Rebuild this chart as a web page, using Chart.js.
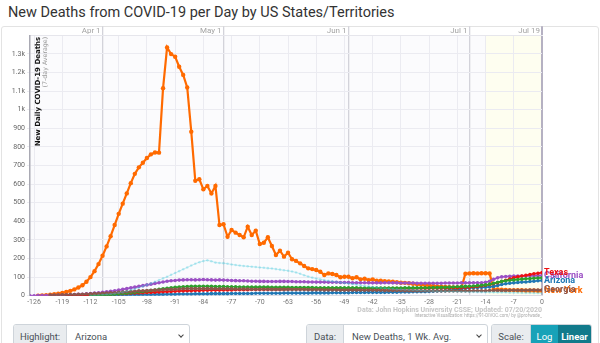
<!DOCTYPE html>
<html>
<head>
<meta charset="utf-8">
<script src="https://cdn.jsdelivr.net/npm/chart.js@4.4.1/dist/chart.umd.min.js"></script>
<style>
  html, body { margin: 0; padding: 0; background: #fff; }
  body { width: 600px; height: 343px; overflow: hidden; position: relative; font-family: Roboto, "Liberation Sans", sans-serif; }
  h1 { position: absolute; left: 8px; top: 4px; margin: 0; font-size: 14.5px; font-weight: 400; color: #333; line-height: 18px; white-space: nowrap; }
  .frame { position: absolute; left: 1px; top: 26px; width: 596px; height: 330px; border: 1px solid #e3e3e3; border-radius: 3px; }
  .plot { position: absolute; left: 0; top: 26px; width: 600px; height: 292px; }
  .grp { position: absolute; top: 324px; height: 25px; display: flex; border: 1px solid #ced4da; border-radius: 3px; box-sizing: border-box; overflow: hidden; font-size: 9.5px; color: #495057; background: #fff; }
  .lab { background: #e9ecef; border-right: 1px solid #ced4da; line-height: 23px; text-align: center; }
  .sel { flex: 1; line-height: 23px; padding-left: 8px; position: relative; }
  .chev { position: absolute; right: 6px; top: 8px; width: 3px; height: 3px; border-right: 1.2px solid #444; border-bottom: 1.2px solid #444; transform: rotate(45deg); }
  .btn { line-height: 23px; text-align: center; color: #fff; }
</style>
</head>
<body>
<h1>New Deaths from COVID-19 per Day by US States/Territories</h1>
<div class="frame"></div>
<div class="plot"><canvas id="deathsChart" width="600" height="292"></canvas></div>

<div class="grp" style="left:13px;width:177px">
  <div class="lab" style="width:52px">Highlight:</div>
  <div class="sel">Arizona<i class="chev"></i></div>
</div>
<div class="grp" style="left:306px;width:182px">
  <div class="lab" style="width:36px">Data:</div>
  <div class="sel">New Deaths, 1 Wk. Avg.<i class="chev"></i></div>
</div>
<div class="grp" style="left:491px;width:101px">
  <div class="lab" style="width:38px">Scale:</div>
  <div class="btn" style="width:27px;background:#17a2b8">Log</div>
  <div class="btn" style="flex:1;background:#117a8b;font-weight:700">Linear</div>
</div>

<script>
// days relative to the latest report (0 = Jul 19)
const days = [
  -127,-126,-125,-124,-123,-122,-121,-120,-119,-118,
  -117,-116,-115,-114,-113,-112,-111,-110,-109,-108,
  -107,-106,-105,-104,-103,-102,-101,-100,-99,-98,
  -97,-96,-95,-94,-93,-92,-91,-90,-89,-88,
  -87,-86,-85,-84,-83,-82,-81,-80,-79,-78,
  -77,-76,-75,-74,-73,-72,-71,-70,-69,-68,
  -67,-66,-65,-64,-63,-62,-61,-60,-59,-58,
  -57,-56,-55,-54,-53,-52,-51,-50,-49,-48,
  -47,-46,-45,-44,-43,-42,-41,-40,-39,-38,
  -37,-36,-35,-34,-33,-32,-31,-30,-29,-28,
  -27,-26,-25,-24,-23,-22,-21,-20,-19,-18,
  -17,-16,-15,-14,-13,-12,-11,-10,-9,-8,
  -7,-6,-5,-4,-3,-2,-1,0
];

const newYork = [
  null,null,0,2,3,5,8,11,15,20,
  26,34,44,56,75,100,132,170,215,265,
  320,380,440,495,550,605,655,690,715,740,
  760,770,769,1115,1335,1299,1285,1231,1187,1120,
  882,618,626,572,590,550,590,380,384,317,
  353,339,326,314,371,326,350,278,285,314,
  267,219,242,210,231,196,187,174,160,147,
  143,138,129,111,120,117,111,99,102,102,
  94,99,88,91,84,88,81,80,78,76,
  75,72,70,69,67,64,62,60,58,55,
  52,50,48,47,46,45,44,42,118,120,
  121,120,121,121,120,34,33,32,31,30,
  30,29,29,28,28,28,27,27
];

const california = [
  0,0,1,1,1,2,2,3,3,4,
  5,6,7,8,10,12,14,16,18,21,
  24,27,30,34,38,42,46,50,54,58,
  62,66,70,74,78,80,82,84,85,86,
  86,85,86,87,86,85,84,85,84,83,
  82,81,80,80,79,78,78,77,77,76,
  76,76,77,77,76,76,75,75,75,74,
  74,73,73,73,72,72,72,71,71,71,
  70,70,70,70,69,69,69,69,70,70,
  69,69,68,68,68,68,67,67,67,67,
  67,67,67,68,68,68,68,69,69,69,
  70,70,70,72,78,88,96,101,103,104,
  105,105,106,106,107,107,108,108
];

const texas = [
  null,null,null,null,null,null,null,null,null,0,
  1,1,1,2,2,3,4,5,6,7,
  8,9,10,11,12,13,14,15,16,17,
  18,19,20,21,22,23,24,25,26,27,
  27,28,28,29,29,30,30,30,31,31,
  31,32,32,32,32,33,33,33,33,33,
  34,34,34,34,35,35,35,35,35,35,
  35,36,36,36,36,36,36,36,36,36,
  36,37,37,37,37,38,38,38,38,38,
  38,38,39,39,39,39,40,40,40,40,
  41,41,41,42,42,43,43,44,45,46,
  48,50,53,56,60,65,70,76,83,90,
  96,101,106,110,114,118,121,124
];

const arizona = [
  null,null,null,null,null,null,null,null,null,0,
  0,0,0,1,1,1,1,2,2,2,
  3,3,3,4,4,5,5,5,6,6,
  6,7,7,7,8,8,8,9,9,9,
  9,10,10,10,10,11,11,11,11,11,
  12,12,12,12,12,12,13,13,13,13,
  13,13,13,14,14,14,14,14,14,14,
  15,15,15,15,15,16,16,16,16,16,
  17,17,17,17,18,18,18,18,18,19,
  19,19,20,20,20,21,21,22,22,23,
  24,25,26,27,29,31,33,36,40,42,
  43,44,45,46,47,50,55,60,64,67,
  69,71,73,74,76,78,80,82
];

const georgia = [
  null,null,null,null,null,3,4,4,5,5,
  6,6,7,8,9,10,11,12,13,14,
  15,16,18,19,21,22,24,26,27,28,
  29,30,31,32,33,34,35,36,37,37,
  38,38,38,38,38,38,37,37,37,37,
  37,36,36,36,36,35,35,35,35,35,
  34,34,34,34,34,33,33,33,33,32,
  32,32,32,31,31,31,31,30,30,30,
  30,30,30,29,29,29,29,29,28,28,
  28,28,28,27,27,27,27,27,27,27,
  27,26,26,26,26,26,26,26,26,26,
  27,27,27,27,28,28,28,28,28,29,
  29,29,29,29,30,30,30,30
];

const florida = [
  null,null,null,null,null,null,null,null,null,null,
  null,null,null,null,null,1,2,3,4,5,
  6,8,10,12,14,16,18,20,22,25,
  28,31,34,37,40,43,45,47,48,49,
  50,50,51,51,50,50,49,49,49,48,
  48,48,47,47,47,46,46,46,46,46,
  45,45,45,45,45,44,44,44,44,44,
  44,43,43,43,43,43,42,42,42,42,
  42,42,41,41,41,41,41,41,41,41,
  41,41,41,42,42,42,42,43,43,43,
  44,44,45,45,46,47,48,49,50,51,
  52,54,56,58,62,67,72,77,80,83,
  85,87,89,91,92,94,95,96
];

const newJersey = [
  null,null,null,null,null,null,null,null,null,null,
  null,null,null,null,null,1,2,3,5,7,
  9,12,15,19,24,30,36,43,50,58,
  66,75,84,93,102,112,122,132,142,152,
  162,172,180,186,190,185,178,176,175,172,
  168,165,162,160,158,156,154,152,150,148,
  146,143,140,137,134,130,125,118,110,103,
  97,92,88,84,80,77,74,71,68,65,
  62,59,56,53,50,47,44,42,40,38,
  36,34,33,32,31,30,29,28,27,26,
  25,24,24,23,23,22,22,21,21,20,
  20,19,19,18,18,18,17,17,17,16,
  16,16,15,15,15,14,14,14
];

const xTicks = [-126,-119,-112,-105,-98,-91,-84,-77,-70,-63,-56,-49,-42,-35,-28,-21,-14,-7,0];
const dateTickDays = [-109, -79, -48, -18, 0];
const dateTickLabels = ["Apr 1", "May 1", "Jun 1", "Jul 1", "Jul 19"];
const yTicks = [0,100,200,300,400,500,600,700,800,900,1000,1100,1200,1300];
const yTickLabels = ["0","100","200","300","400","500","600","700","800","900","1k","1.1k","1.2k","1.3k"];
const recentStart = -14;

// drawing order: first is at the bottom
const series = [
  { name: "New Jersey", values: newJersey },
  { name: "Georgia", values: georgia },
  { name: "Florida", values: florida },
  { name: "Texas", values: texas },
  { name: "Arizona", values: arizona },
  { name: "California", values: california },
  { name: "New York", values: newYork }
];
const endLabels = ["New York", "Georgia", "California", "Texas", "Arizona"];

const colors = {
  "New Jersey": "rgba(60,200,220,0.3)",
  "Georgia": "#8c564b",
  "Florida": "#2ca02c",
  "Texas": "#ee1111",
  "Arizona": "#1f77b4",
  "California": "#9b4fc4",
  "New York": "#ff6a00"
};

const datasets = series.map(s => {
  const big = s.name === "New York";
  const faint = s.name === "New Jersey";
  return {
    label: s.name,
    data: days.map((d, i) => ({ x: d, y: s.values[i] })),
    borderColor: colors[s.name],
    backgroundColor: colors[s.name],
    borderWidth: big ? 2.2 : (faint ? 1 : 1.6),
    pointRadius: big ? 2.2 : (faint ? 1.3 : 1.8),
    pointBorderWidth: 0,
    tension: 0
  };
});

const FONT = "Roboto, 'Liberation Sans', sans-serif";
const WIDE = "'DejaVu Sans', Verdana, sans-serif";

// plot background and the shaded recent two weeks
const backdrop = {
  id: "backdrop",
  beforeDraw(chart) {
    const { ctx, chartArea: a, scales: { x } } = chart;
    ctx.save();
    ctx.fillStyle = "#fbfbfd";
    ctx.fillRect(a.left, a.top, a.right - a.left, a.bottom - a.top);
    const x0 = x.getPixelForValue(recentStart);
    const x1 = x.getPixelForValue(0);
    ctx.fillStyle = "#fefef0";
    ctx.fillRect(x0, a.top, x1 - x0, a.bottom - a.top);
    ctx.restore();
  }
};

// y axis title sits inside the plot
const axisTitle = {
  id: "axisTitle",
  beforeDatasetsDraw(chart) {
    const { ctx, chartArea: a } = chart;
    ctx.save();
    ctx.translate(a.left + 8, a.top + 1.5);
    ctx.rotate(-Math.PI / 2);
    ctx.textAlign = "right";
    ctx.textBaseline = "middle";
    ctx.font = "bold 7px " + WIDE;
    ctx.fillStyle = "#111";
    ctx.fillText("New Daily COVID-19 Deaths", 0, 0);
    ctx.font = "6.3px " + WIDE;
    ctx.fillStyle = "#999";
    ctx.fillText("(7-day Average)", 0, 7);
    ctx.restore();
  }
};

// state names at the end of each line, plus the source note
const lineLabels = {
  id: "lineLabels",
  afterDatasetsDraw(chart) {
    const { ctx } = chart;
    ctx.save();
    ctx.font = "bold 9px " + FONT;
    ctx.textAlign = "left";
    ctx.textBaseline = "middle";
    endLabels.forEach(name => {
      const idx = series.findIndex(s => s.name === name);
      const pts = chart.getDatasetMeta(idx).data;
      const p = pts[pts.length - 1];
      ctx.fillStyle = colors[name];
      ctx.fillText(name, p.x + 2, p.y);
    });
    ctx.restore();
  },
  afterDraw(chart) {
    const { ctx, scales: { x } } = chart;
    const right = x.getPixelForValue(0);
    ctx.save();
    ctx.textAlign = "right";
    ctx.textBaseline = "middle";
    ctx.font = "bold 7px " + FONT;
    ctx.fillStyle = "#c6c6c6";
    ctx.fillText("Data: John Hopkins University CSSE; Updated: 07/20/2020", right, 284.5);
    ctx.font = "4.5px " + FONT;
    ctx.fillStyle = "#aaa";
    ctx.fillText("Interactive Visualization: https://91-DIVOC.com/ by @profwade_", right, 289.8);
    ctx.restore();
  }
};

const ctx = document.getElementById("deathsChart").getContext("2d");
new Chart(ctx, {
  type: "line",
  data: { datasets: datasets },
  plugins: [backdrop, axisTitle, lineLabels],
  options: {
    responsive: false,
    animation: false,
    devicePixelRatio: 1,
    layout: { padding: { left: 0, right: 58, top: 0, bottom: 0 } },
    plugins: { legend: { display: false }, tooltip: { enabled: false } },
    events: [],
    scales: {
      x: {
        type: "linear",
        position: "bottom",
        min: -127,
        max: 0,
        afterBuildTicks: s => { s.ticks = xTicks.map(v => ({ value: v })); },
        afterFit: s => { s.height = 22.3; },
        grid: { color: "#ebebf1", lineWidth: 1, drawTicks: false },
        border: { color: "#dcdce4" },
        ticks: { color: "#777", font: { family: FONT, size: 7 }, padding: 2, maxRotation: 0, autoSkip: false }
      },
      xTop: {
        type: "linear",
        position: "top",
        min: -127,
        max: 0,
        afterBuildTicks: s => { s.ticks = dateTickDays.map(v => ({ value: v })); },
        afterFit: s => { s.height = 9.3; },
        grid: {
          color: c => (c.tick && c.tick.value === 0) ? "#b5b1c2" : "#d3d3da",
          lineWidth: c => (c.tick && c.tick.value === 0) ? 2 : 1.3,
          tickLength: 9
        },
        border: { color: "#e6e6ec", width: 1 },
        ticks: {
          callback: (v, i) => dateTickLabels[i],
          align: "end",
          labelOffset: -2,
          padding: -9.5,
          color: "#a3a3a3",
          font: { family: FONT, size: 8 },
          maxRotation: 0,
          autoSkip: false
        }
      },
      y: {
        min: 0,
        max: 1400,
        afterBuildTicks: s => { s.ticks = yTicks.map(v => ({ value: v })); },
        afterFit: s => { s.width = 30; },
        grid: { color: "#ebebf1", tickLength: 3 },
        border: { color: "#a9a9b3", width: 1.5 },
        ticks: {
          callback: (v, i) => yTickLabels[i],
          color: "#666",
          font: { family: FONT, size: 7 },
          padding: 2
        }
      }
    }
  }
});
</script>
</body>
</html>
